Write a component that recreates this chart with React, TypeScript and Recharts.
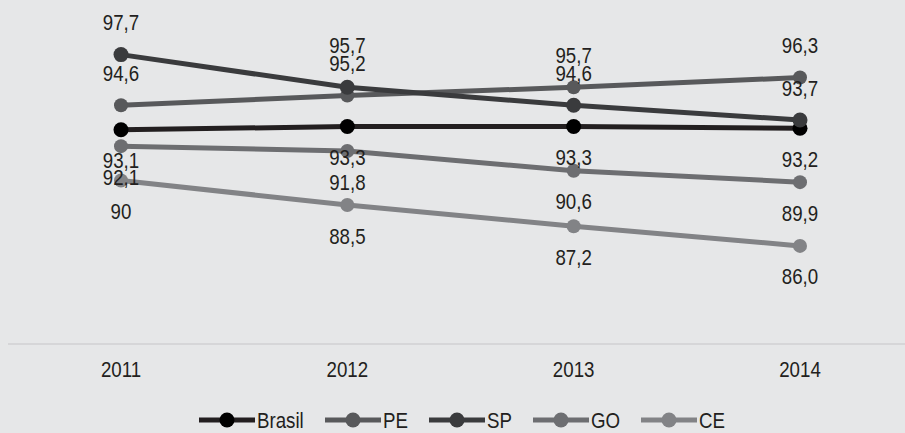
import React from 'react';
import { LineChart, Line, XAxis, YAxis, Legend, LabelList } from 'recharts';

// Values as printed on the chart (comma decimals)
const years = ['2011', '2012', '2013', '2014'];
const brasil = ['93,1', '93,3', '93,3', '93,2'];
const pe = ['94,6', '95,2', '95,7', '96,3'];
const sp = ['97,7', '95,7', '94,6', '93,7'];
const go = ['92,1', '91,8', '90,6', '89,9'];
const ce = ['90', '88,5', '87,2', '86,0'];

// condensed look: Liberation Sans squeezed horizontally
const FONT = "'Liberation Sans', Arial, sans-serif";
const FS = 22;
const SQ = 0.85;
const TEXT = '#231f20';
const BG = '#e6e7e8';

const Y_MIN = 80;
const Y_MAX = 100;
const PLOT_H = 327;
const PX_PER_UNIT = PLOT_H / (Y_MAX - Y_MIN);

const toNum = (s: string) => parseFloat(s.replace(',', '.'));

const series = [
  { key: 'brasil', name: 'Brasil', labels: brasil, color: '#000000', line: '#231f20', above: false, r: 7.5 },
  { key: 'pe', name: 'PE', labels: pe, color: '#58595b', line: '#58595b', above: true, r: 7 },
  { key: 'sp', name: 'SP', labels: sp, color: '#3a3b3d', line: '#3a3b3d', above: true, r: 7.5 },
  { key: 'go', name: 'GO', labels: go, color: '#6d6e71', line: '#6d6e71', above: false, r: 7 },
  { key: 'ce', name: 'CE', labels: ce, color: '#828386', line: '#828386', above: false, r: 7 },
];

const data = years.map((year, i) => {
  const row: Record<string, string | number> = { year };
  series.forEach((s) => {
    row[s.key] = toNum(s.labels[i]);
  });
  return row;
});

let ctx: CanvasRenderingContext2D | null = null;
const textWidth = (t: string) => {
  if (!ctx) {
    ctx = document.createElement('canvas').getContext('2d');
    if (ctx) ctx.font = `${FS}px 'Liberation Sans'`;
  }
  return ctx ? ctx.measureText(t).width * SQ : t.length * 10;
};

const SqText = ({ x, y, children, anchor = 'middle' }: any) => (
  <text
    transform={`translate(${x},${y}) scale(${SQ},1)`}
    textAnchor={anchor}
    dominantBaseline="central"
    fontFamily={FONT}
    fontSize={FS}
    fill={TEXT}
  >
    {children}
  </text>
);

const LegendContent = () => (
  <div
    style={{
      display: 'flex',
      justifyContent: 'center',
      alignItems: 'center',
      height: 26,
      gap: 21,
      paddingLeft: 3,
    }}
  >
    {series.map((s) => {
      const w = textWidth(s.name);
      return (
        <svg key={s.key} width={58 + w} height={26} style={{ display: 'block', overflow: 'visible' }}>
          <line x1={0} y1={13} x2={56} y2={13} stroke={s.line} strokeWidth={5} />
          <circle cx={28} cy={13} r={7.5} fill={s.color} />
          <SqText x={58} y={13} anchor="start">{s.name}</SqText>
        </svg>
      );
    })}
  </div>
);

const YearTick = (props: any) => {
  const { x, y, payload } = props;
  return <SqText x={x} y={y + 17}>{payload.value}</SqText>;
};

// push an upper label up when its neighbour's label would sit on top of it
const makeLabel = (key: string, labels: string[], above: boolean) => (props: any) => {
  const { x, y, index } = props;
  let ly = above ? y - 32 : y + 31;
  if (above) {
    const v = data[index][key] as number;
    series.forEach((o) => {
      if (o.key === key || !o.above) return;
      const gap = (v - (data[index][o.key] as number)) * PX_PER_UNIT;
      if (gap > 0 && gap < 16) ly -= 18 - gap;
    });
  }
  return <SqText x={x} y={ly}>{labels[index]}</SqText>;
};

export default function App() {
  return (
    <div style={{ position: 'fixed', inset: 0, background: BG, overflow: 'hidden' }}>
      <div style={{ position: 'absolute', left: 8, top: 8 }}>
        <LineChart width={905} height={425} data={data} margin={{ top: 9, right: 0, bottom: 0, left: 0 }}>
          <XAxis
            dataKey="year"
            height={63}
            padding={{ left: 113, right: 113 }}
            axisLine={{ stroke: '#d0d1d3', strokeWidth: 1.5 }}
            tickLine={false}
            tick={<YearTick />}
          />
          <YAxis hide domain={[Y_MIN, Y_MAX]} />
          <Legend verticalAlign="bottom" content={<LegendContent />} />
          {series.map((s) => (
            <Line
              key={s.key}
              dataKey={s.key}
              name={s.name}
              stroke={s.line}
              strokeWidth={5}
              dot={{ r: s.r, fill: s.color, stroke: 'none' }}
              activeDot={false}
              isAnimationActive={false}
            >
              <LabelList dataKey={s.key} content={makeLabel(s.key, s.labels, s.above)} />
            </Line>
          ))}
        </LineChart>
      </div>
    </div>
  );
}
